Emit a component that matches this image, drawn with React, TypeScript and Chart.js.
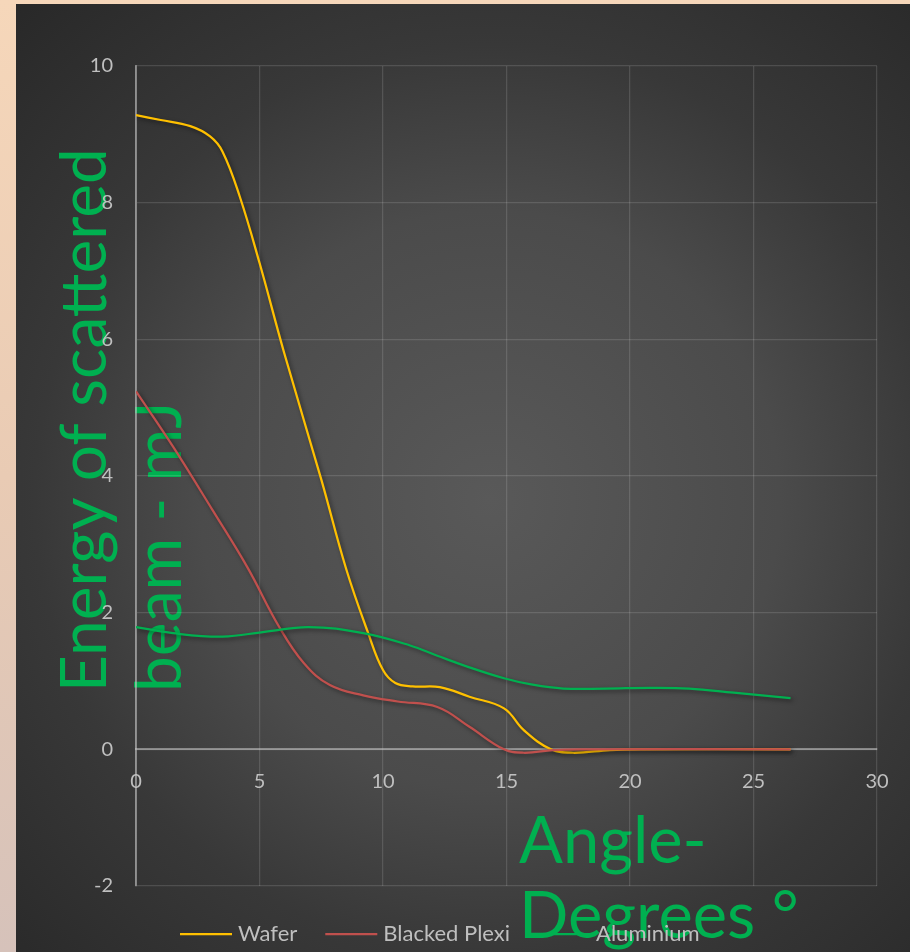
import React, { useEffect, useRef } from 'react';
import { Chart, registerables } from 'chart.js';

Chart.register(...registerables);

// ---- data ----
const waferAngles = [0, 1, 2.2, 3, 3.5, 4.2, 5, 6, 7.5, 8.5, 9.4, 10, 10.5, 11.2, 12.3, 13.5, 14.9, 15.7, 16.8, 17.7, 19.2, 20.5, 26.5];
const waferValues = [9.28, 9.21, 9.12, 8.97, 8.75, 8.09, 7.12, 5.8, 3.95, 2.65, 1.7, 1.16, 0.97, 0.92, 0.91, 0.77, 0.6, 0.28, 0, -0.05, -0.01, 0, 0];

const plexiAngles = [0, 1.5, 3.1, 4.5, 5.8, 6.8, 7.85, 9.2, 10.6, 12.2, 13.5, 14.9, 15.7, 16.9, 18, 26.5];
const plexiValues = [5.24, 4.43, 3.5, 2.67, 1.79, 1.26, 0.94, 0.79, 0.7, 0.62, 0.33, 0, -0.05, -0.01, 0, 0];

const aluminiumAngles = [0, 1.5, 3.5, 5.2, 7.0, 9.2, 11.1, 12.2, 13.5, 14.9, 16, 17.3, 19, 20.8, 22.4, 24.2, 26.5];
const aluminiumValues = [1.79, 1.7, 1.65, 1.72, 1.79, 1.7, 1.52, 1.37, 1.2, 1.04, 0.95, 0.89, 0.89, 0.9, 0.89, 0.83, 0.75];

const seriesNames = ['Wafer', 'Blacked Plexi', 'Aluminium'];
const seriesColors = ['#ffc000', '#c0504d', '#00b050'];
const yTitleLines = ['Energy of scattered', 'beam - mJ'];
const xTitleLines = ['Angle-', 'Degrees °'];

const FONT = 'Lato, "Segoe UI", "Noto Sans", sans-serif';
const TEXT_GRAY = '#bfbfbf';
const TITLE_GREEN = '#00b050';

const toPoints = (xs: number[], ys: number[]) => ys.map((y, i) => ({ x: xs[i], y }));

const decorPlugin = {
  id: 'decor',
  beforeDraw(chart: any) {
    const { ctx, width, height } = chart;
    ctx.save();
    const beige = ctx.createLinearGradient(0, 0, 0, height);
    beige.addColorStop(0, '#f6d7ba');
    beige.addColorStop(0.5, '#e9cbb4');
    beige.addColorStop(1, '#d6c2ba');
    ctx.fillStyle = beige;
    ctx.fillRect(0, 0, width, height);
    const cx = 490;
    const cy = 500;
    const rad = ctx.createRadialGradient(cx, cy, 0, cx, cy, 690);
    rad.addColorStop(0, '#595959');
    rad.addColorStop(0.42, '#4b4b4b');
    rad.addColorStop(0.66, '#383838');
    rad.addColorStop(1, '#282828');
    ctx.fillStyle = rad;
    ctx.fillRect(16, 4, width - 16, height - 4);

    // axis titles (under the axes, lines and legend)
    ctx.fillStyle = TITLE_GREEN;
    ctx.font = `64px ${FONT}`;
    ctx.textAlign = 'left';
    ctx.textBaseline = 'alphabetic';
    const yBase = [106, 181];
    yTitleLines.forEach((line, i) => {
      ctx.save();
      ctx.translate(yBase[i], 692);
      ctx.rotate(-Math.PI / 2);
      ctx.fillText(line, 0, 0);
      ctx.restore();
    });
    ctx.font = `65px ${FONT}`;
    const xBase = [863, 938];
    xTitleLines.forEach((line, i) => {
      ctx.fillText(line, 519, xBase[i]);
    });
    ctx.restore();
  },
  beforeDatasetsDraw(chart: any) {
    const { ctx } = chart;
    ctx.save();
    ctx.shadowColor = 'rgba(0,0,0,0.5)';
    ctx.shadowBlur = 4;
    ctx.shadowOffsetX = 2;
    ctx.shadowOffsetY = 2;
  },
  afterDatasetsDraw(chart: any) {
    chart.ctx.restore();
  },
  afterDraw(chart: any) {
    const { ctx } = chart;
    ctx.save();
    ctx.font = `22px ${FONT}`;
    ctx.textBaseline = 'middle';
    ctx.textAlign = 'left';
    const yMid = 934;
    let x = 180;
    seriesNames.forEach((name, i) => {
      ctx.strokeStyle = seriesColors[i];
      ctx.lineWidth = 2.25;
      ctx.beginPath();
      ctx.moveTo(x, yMid);
      ctx.lineTo(x + 52, yMid);
      ctx.stroke();
      x += 58;
      ctx.fillStyle = TEXT_GRAY;
      ctx.fillText(name, x, yMid);
      x += ctx.measureText(name).width + 28;
    });
    ctx.restore();
  },
};

export default function App() {
  const canvasRef = useRef<HTMLCanvasElement | null>(null);

  useEffect(() => {
    let chart: Chart | null = null;
    let cancelled = false;
    const make = () => {
      if (cancelled || !canvasRef.current) return;
      const gridColor = 'rgba(255,255,255,0.13)';
      const axisColor = 'rgba(200,200,200,0.55)';
      const series = [
        toPoints(waferAngles, waferValues),
        toPoints(plexiAngles, plexiValues),
        toPoints(aluminiumAngles, aluminiumValues),
      ];
      chart = new Chart(canvasRef.current, {
        type: 'line',
        data: {
          datasets: series.map((pts, i) => ({
            label: seriesNames[i],
            data: pts,
            borderColor: seriesColors[i],
            backgroundColor: seriesColors[i],
            borderWidth: 2.25,
            pointRadius: 0,
            tension: 0.4,
            fill: false,
            order: 3 - i,
          })),
        },
        options: {
          animation: false,
          responsive: false,
          devicePixelRatio: 1,
          layout: { padding: { left: 0, top: 66, right: 33, bottom: 66 } },
          plugins: {
            legend: { display: false },
            tooltip: { enabled: false },
          },
          scales: {
            x: {
              type: 'linear',
              min: 0,
              max: 30,
              position: { y: 0 } as any,
              ticks: {
                stepSize: 5,
                color: TEXT_GRAY,
                font: { family: FONT, size: 20 },
                padding: 20,
                maxRotation: 0,
              },
              grid: { color: gridColor, lineWidth: 1.25, drawTicks: false },
              border: { color: axisColor, width: 2 },
            },
            y: {
              type: 'linear',
              min: -2,
              max: 10,
              ticks: {
                stepSize: 2,
                color: TEXT_GRAY,
                font: { family: FONT, size: 20 },
                padding: 23,
              },
              grid: { color: gridColor, lineWidth: 1.25, drawTicks: false },
              border: { color: axisColor, width: 2 },
              afterFit: (scale: any) => {
                scale.width = 136;
              },
            },
          },
        } as any,
        plugins: [decorPlugin],
      });
    };
    const fontsReady = (document as any).fonts
      ? Promise.all([
          (document as any).fonts.load(`65px Lato`),
          (document as any).fonts.load(`20px Lato`),
        ]).catch(() => null)
      : Promise.resolve(null);
    fontsReady.then(make);
    return () => {
      cancelled = true;
      if (chart) chart.destroy();
    };
  }, []);

  return (
    <div style={{ position: 'absolute', left: 0, top: 0, width: 910, height: 952 }}>
      <canvas ref={canvasRef} width={910} height={952} style={{ display: 'block', width: 910, height: 952 }} />
    </div>
  );
}
